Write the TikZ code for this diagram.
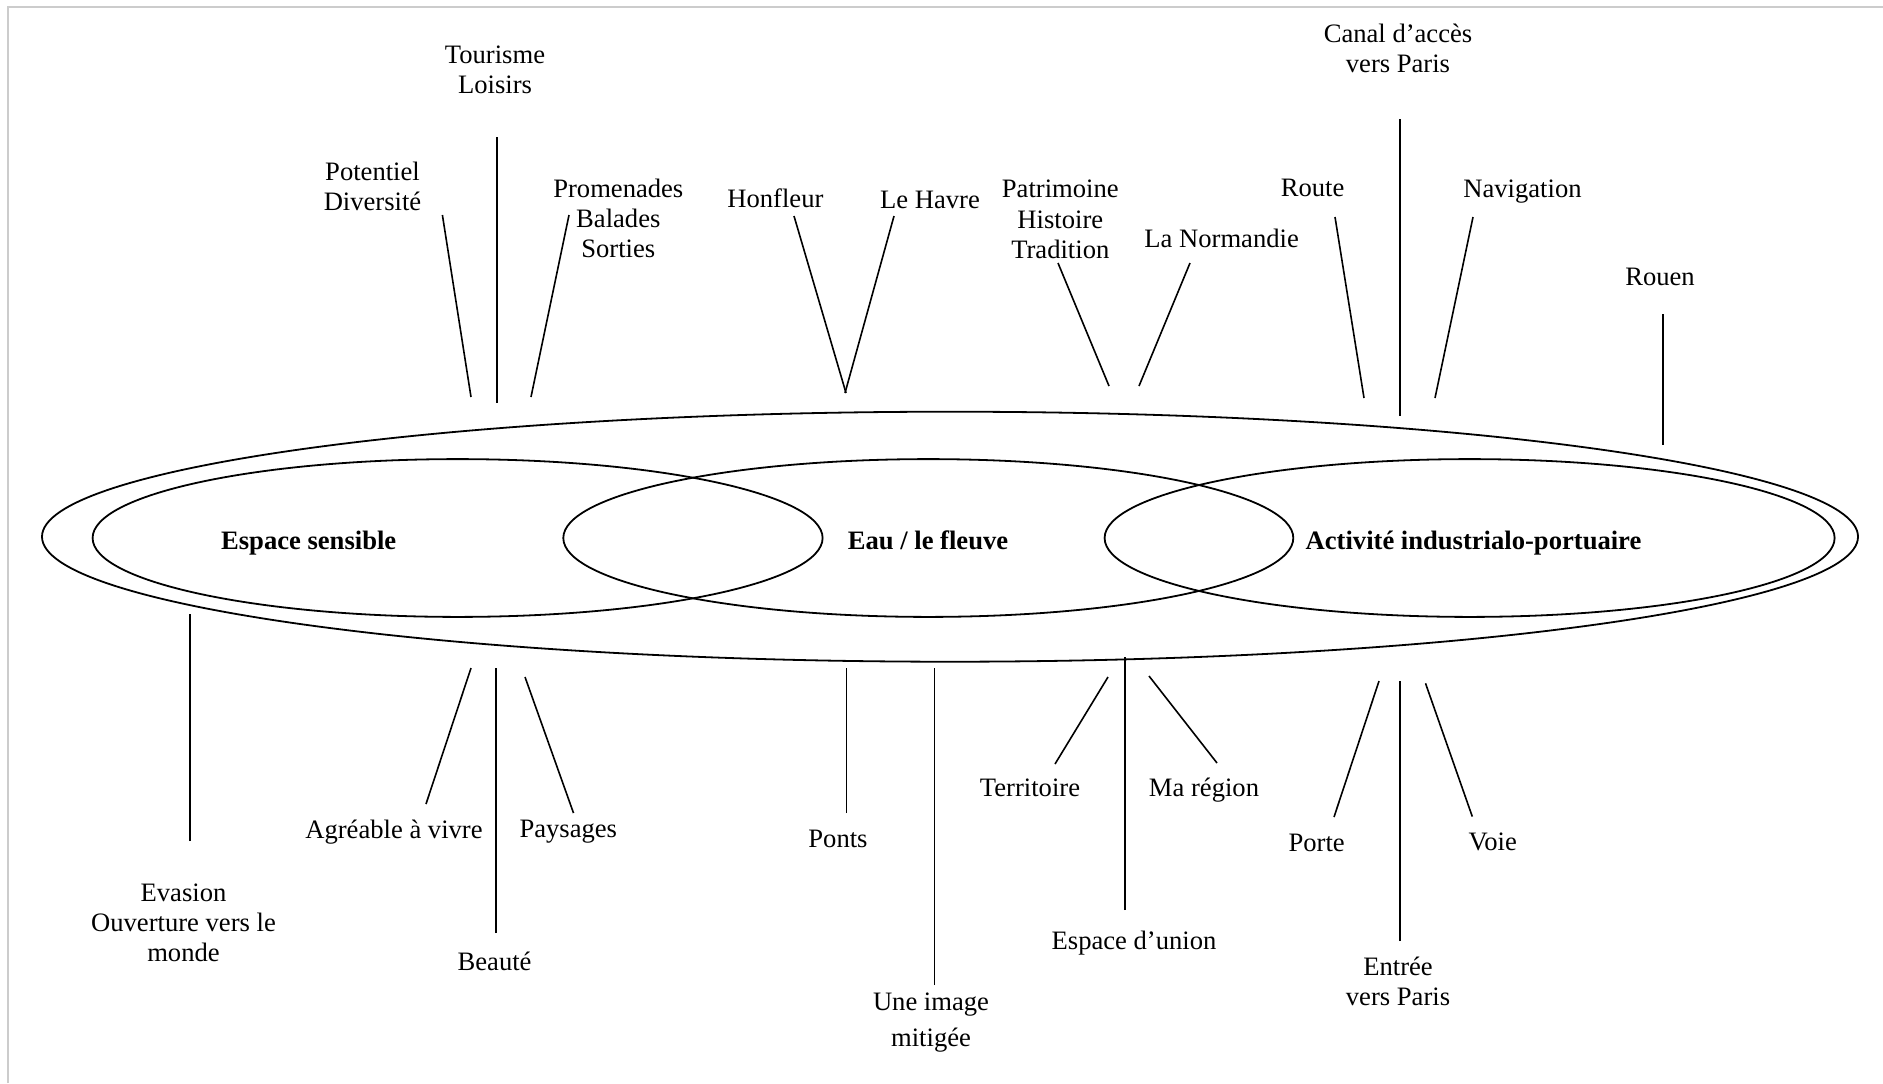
\documentclass[tikz,border=0pt]{standalone}
\usepackage{fontspec}
\setmainfont{Liberation Serif}
\usepackage{tikz}
\usetikzlibrary{shapes.geometric}
\definecolor{cadreGris}{HTML}{CCCCCC}
\newcommand\motfont{\fontsize{13.3}{15.1}\selectfont}

\begin{document}
\begin{tikzpicture}[x=0.5pt, y=-0.5pt,
    mot/.style={align=center, inner sep=0pt, font=\motfont},
    seul/.style={mot, text depth=0pt},
    titre/.style={inner sep=0pt, text depth=0pt, font=\motfont\bfseries},
    bulle/.style={draw, ellipse, line width=0.9pt, inner sep=0pt},
    petite/.style={bulle, minimum width=365pt, minimum height=78.9pt},
    trait/.style={line width=0.8pt},
    cadre/.style={draw=cadreGris, line width=1pt}]
  \useasboundingbox (0,0) rectangle (1883,1083);
  \draw[cadre] (7.5,1083) -- (7.5,6.5) -- (1883,6.5);

  % les ensembles
  \node[bulle, minimum width=908pt, minimum height=125pt] (ensemble) at (950,536.7) {};
  \node[petite] (sensible) at (457.6,538) {};
  \node[petite] (fleuve) at (928.3,538) {};
  \node[petite] (industrie) at (1469.6,538) {};
  \node[titre] (sensibleLbl) at (308.7,540) {Espace sensible};
  \node[titre] (fleuveLbl) at (928,540) {Eau / le fleuve};
  \node[titre] (industrieLbl) at (1473.5,540) {Activité industrialo-portuaire};

  % mots du haut
  \node[mot] (tourisme) at (495,70) {Tourisme\\Loisirs};
  \node[mot] (potentiel) at (372.5,186.7) {Potentiel\\Diversité};
  \node[mot] (promenades) at (618.3,218.6) {Promenades\\Balades\\Sorties};
  \node[seul] (honfleur) at (775.4,198.5) {Honfleur};
  \node[seul] (havre) at (930,199.3) {Le Havre};
  \node[mot] (patrimoine) at (1060.3,219.4) {Patrimoine\\Histoire\\Tradition};
  \node[seul] (normandie) at (1221.6,238.5) {La Normandie};
  \node[seul] (route) at (1312.6,187.3) {Route};
  \node[mot] (canal) at (1398,48.3) {Canal d’accès\\vers Paris};
  \node[seul] (navigation) at (1522.5,189) {Navigation};
  \node[seul] (rouen) at (1660,276.7) {Rouen};

  % mots du bas
  \node[mot] (evasion) at (183.5,923) {Evasion\\Ouverture vers le\\monde};
  \node[seul] (agreable) at (394,829) {Agréable à vivre};
  \node[seul] (beaute) at (494.6,961.7) {Beauté};
  \node[seul] (paysages) at (568.3,828.3) {Paysages};
  \node[seul] (ponts) at (838,839) {Ponts};
  \node[mot, font=\fontsize{13.3}{18.3}\selectfont] (image) at (931,1022.5) {Une image\\mitigée};
  \node[seul] (territoire) at (1030,787.7) {Territoire};
  \node[seul] (union) at (1134,940.5) {Espace d’union};
  \node[seul] (region) at (1204,787.7) {Ma région};
  \node[seul] (porte) at (1316.7,842.7) {Porte};
  \node[mot] (entree) at (1398,981) {Entrée\\vers Paris};
  \node[seul] (voie) at (1492.7,842) {Voie};

  % extremites des traits
  \coordinate (tourisme-a) at (497,137);   \coordinate (tourisme-b) at (497,403);
  \coordinate (potentiel-a) at (442.4,215); \coordinate (potentiel-b) at (471,397);
  \coordinate (promenades-a) at (569,215); \coordinate (promenades-b) at (531,397);
  \coordinate (honfleur-a) at (794,216);   \coordinate (honfleur-b) at (846,393);
  \coordinate (havre-a) at (894,216);      \coordinate (havre-b) at (845,393);
  \coordinate (patrimoine-a) at (1058,263); \coordinate (patrimoine-b) at (1109,386);
  \coordinate (normandie-a) at (1190,263); \coordinate (normandie-b) at (1139,386);
  \coordinate (route-a) at (1335,217);     \coordinate (route-b) at (1364,398);
  \coordinate (canal-a) at (1400,119);     \coordinate (canal-b) at (1400,416);
  \coordinate (navigation-a) at (1473,217); \coordinate (navigation-b) at (1435,398);
  \coordinate (rouen-a) at (1663,314);     \coordinate (rouen-b) at (1663,445);

  \coordinate (evasion-a) at (190,841);    \coordinate (evasion-b) at (190,614);
  \coordinate (agreable-a) at (426,804);   \coordinate (agreable-b) at (471,668);
  \coordinate (beaute-a) at (496,933);     \coordinate (beaute-b) at (496,668);
  \coordinate (paysages-a) at (573.5,813); \coordinate (paysages-b) at (525,677);
  \coordinate (ponts-a) at (846.4,813);    \coordinate (ponts-b) at (846.4,668);
  \coordinate (image-a) at (934.4,985);    \coordinate (image-b) at (934.4,668);
  \coordinate (territoire-a) at (1055,764); \coordinate (territoire-b) at (1108,677);
  \coordinate (union-a) at (1125,910);     \coordinate (union-b) at (1125,657);
  \coordinate (region-a) at (1217,763);    \coordinate (region-b) at (1149,676);
  \coordinate (porte-a) at (1334,817);     \coordinate (porte-b) at (1379,681);
  \coordinate (entree-a) at (1400,941);    \coordinate (entree-b) at (1400,681);
  \coordinate (voie-a) at (1472.3,816.6);  \coordinate (voie-b) at (1425.5,683.3);

  % traits
  \draw[trait] (tourisme-a) -- (tourisme-b);
  \draw[trait] (potentiel-a) -- (potentiel-b);
  \draw[trait] (promenades-a) -- (promenades-b);
  \draw[trait] (honfleur-a) -- (honfleur-b);
  \draw[trait] (havre-a) -- (havre-b);
  \draw[trait] (patrimoine-a) -- (patrimoine-b);
  \draw[trait] (normandie-a) -- (normandie-b);
  \draw[trait] (route-a) -- (route-b);
  \draw[trait] (canal-a) -- (canal-b);
  \draw[trait] (navigation-a) -- (navigation-b);
  \draw[trait] (rouen-a) -- (rouen-b);
  \draw[trait] (evasion-a) -- (evasion-b);
  \draw[trait] (agreable-a) -- (agreable-b);
  \draw[trait] (beaute-a) -- (beaute-b);
  \draw[trait] (paysages-a) -- (paysages-b);
  \draw[trait] (ponts-a) -- (ponts-b);
  \draw[trait] (image-a) -- (image-b);
  \draw[trait] (territoire-a) -- (territoire-b);
  \draw[trait] (union-a) -- (union-b);
  \draw[trait] (region-a) -- (region-b);
  \draw[trait] (porte-a) -- (porte-b);
  \draw[trait] (entree-a) -- (entree-b);
  \draw[trait] (voie-a) -- (voie-b);
\end{tikzpicture}
\end{document}
